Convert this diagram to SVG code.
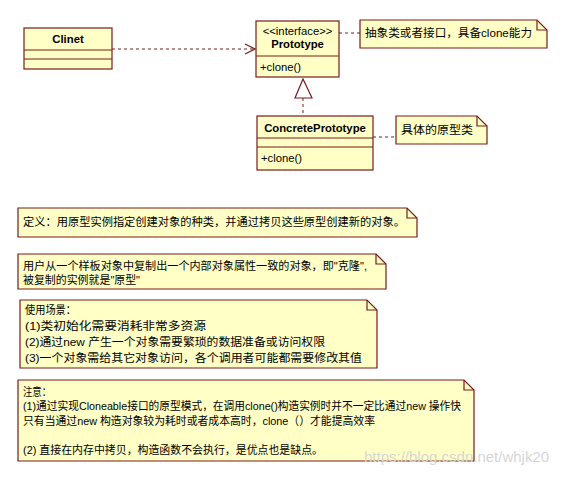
<svg xmlns="http://www.w3.org/2000/svg" width="568" height="482" viewBox="0 0 568 482">
<style>
.box{fill:#ffffc6;stroke:#7a1c1c;stroke-width:1.2}
.ln{stroke:#7a1c1c;stroke-width:1.2;fill:none}
.dash{stroke:#7a1c1c;stroke-width:1;fill:none;stroke-dasharray:3,3}
text{font-family:"Liberation Sans","Noto Sans CJK SC",sans-serif;font-size:11.3px;fill:#000}
.b{font-weight:bold}
.c{text-anchor:middle}
.wm{font-size:15px;fill:#d6d6d6}
</style>
<rect width="568" height="482" fill="#fff"/>
<g id="connectors">
<path class="dash" d="M112,49 H254"/>
<path class="ln" d="M245,44 L255,49 L245,54"/>
<path class="dash" d="M339,33 H360"/>
<path class="dash" d="M303,98 V116"/>
<path class="ln" d="M303,79 L295,98 H312 Z" fill="#fff"/>
<path class="dash" d="M373,137 H396"/>
</g>
<g id="clinet">
<rect class="box" x="24" y="28" width="88" height="41"/>
<path class="ln" d="M24,50 H112 M24,59 H112"/>
<text class="b c" x="68" y="43">Clinet</text>
</g>
<g id="prototype">
<rect class="box" x="256" y="21" width="83" height="56"/>
<path class="ln" d="M256,56 H339"/>
<text class="c" x="297.5" y="35">&lt;&lt;interface&gt;&gt;</text>
<text class="b c" x="297.5" y="48">Prototype</text>
<text x="260" y="71">+clone()</text>
</g>
<g id="concrete">
<rect class="box" x="257" y="116" width="116" height="54"/>
<path class="ln" d="M257,138 H373 M257,147 H373"/>
<text class="b c" x="315" y="132">ConcretePrototype</text>
<text x="261" y="162">+clone()</text>
</g>
<g id="note1">
<path class="box" d="M360,20 H537 L547,30 V48 H360 Z"/>
<path class="ln" d="M537,20 V30 H547"/>
<text x="365" y="37" textLength="167" lengthAdjust="spacingAndGlyphs">抽象类或者接口，具备clone能力</text>
</g>
<g id="note2">
<path class="box" d="M396,116 H477 L487,126 V144 H396 Z"/>
<path class="ln" d="M477,116 V126 H487"/>
<text x="401" y="134" textLength="72" lengthAdjust="spacingAndGlyphs">具体的原型类</text>
</g>
<g id="note3">
<path class="box" d="M18,208 H407 L417,218 V237 H18 Z"/>
<path class="ln" d="M407,208 V218 H417"/>
<text x="23" y="226" textLength="382" lengthAdjust="spacingAndGlyphs">定义：用原型实例指定创建对象的种类，并通过拷贝这些原型创建新的对象。</text>
</g>
<g id="note4">
<path class="box" d="M18,254 H376 L386,264 V289 H18 Z"/>
<path class="ln" d="M376,254 V264 H386"/>
<text x="23" y="270" textLength="344" lengthAdjust="spacingAndGlyphs">用户从一个样板对象中复制出一个内部对象属性一致的对象，即"克隆",</text>
<text x="23" y="284" textLength="117" lengthAdjust="spacingAndGlyphs">被复制的实例就是"原型"</text>
</g>
<g id="note5">
<path class="box" d="M20,300 H367 L377,310 V368 H20 Z"/>
<path class="ln" d="M367,300 V310 H377"/>
<text x="25" y="314" textLength="51" lengthAdjust="spacingAndGlyphs">使用场景：</text>
<text x="25" y="330" textLength="181" lengthAdjust="spacingAndGlyphs">(1)类初始化需要消耗非常多资源</text>
<text x="25" y="346" textLength="300" lengthAdjust="spacingAndGlyphs">(2)通过new 产生一个对象需要繁琐的数据准备或访问权限</text>
<text x="25" y="362" textLength="337" lengthAdjust="spacingAndGlyphs">(3)一个对象需给其它对象访问，各个调用者可能都需要修改其值</text>
</g>
<g id="note6">
<path class="box" d="M18,380 H464 L474,390 V461 H18 Z"/>
<path class="ln" d="M464,380 V390 H474"/>
<text x="23" y="396" textLength="28" lengthAdjust="spacingAndGlyphs">注意：</text>
<text x="23" y="410" textLength="438" lengthAdjust="spacingAndGlyphs">(1)通过实现Cloneable接口的原型模式，在调用clone()构造实例时并不一定比通过new 操作快</text>
<text x="23" y="425" textLength="352" lengthAdjust="spacingAndGlyphs">只有当通过new 构造对象较为耗时或者成本高时，clone（）才能提高效率</text>
<text x="23" y="454" textLength="300" lengthAdjust="spacingAndGlyphs">(2) 直接在内存中拷贝，构造函数不会执行，是优点也是缺点。</text>
</g>
<text class="wm" x="364" y="462">https://blog.csdn.net/whjk20</text>
</svg>
